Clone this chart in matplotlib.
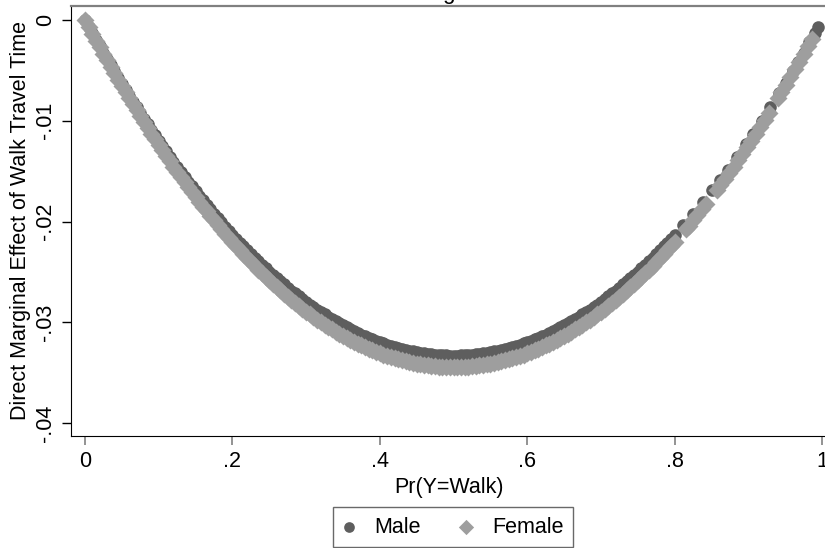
import matplotlib
matplotlib.use("Agg")
import matplotlib.pyplot as plt

plt.rcParams['font.family'] = ['Liberation Sans', 'DejaVu Sans']

# ---------------- data ----------------
p_main = [0.000, 0.005, 0.010, 0.015, 0.020, 0.025, 0.030, 0.035, 0.040, 0.045,
          0.050, 0.055, 0.060, 0.065, 0.070, 0.075, 0.080, 0.085, 0.090, 0.095,
          0.100, 0.105, 0.110, 0.115, 0.120, 0.125, 0.130, 0.135, 0.140, 0.145,
          0.150, 0.155, 0.160, 0.165, 0.170, 0.175, 0.180, 0.185, 0.190, 0.195,
          0.200, 0.21, 0.22, 0.23, 0.24, 0.25, 0.26, 0.27, 0.28, 0.29,
          0.30, 0.31, 0.32, 0.33, 0.34, 0.35, 0.36, 0.37, 0.38, 0.39,
          0.40, 0.41, 0.42, 0.43, 0.44, 0.45, 0.46, 0.47, 0.48, 0.49,
          0.50, 0.51, 0.52, 0.53, 0.54, 0.55, 0.56, 0.57, 0.58, 0.59,
          0.60, 0.61, 0.62, 0.63, 0.64, 0.65, 0.66, 0.67, 0.68, 0.69,
          0.70, 0.71, 0.72, 0.73, 0.74, 0.75, 0.76, 0.77, 0.78, 0.79, 0.80]

male_y_main = [0.0, -0.00066, -0.00132, -0.00197, -0.00261, -0.00325, -0.00388, -0.00450, -0.00511, -0.00572,
               -0.00633, -0.00692, -0.00751, -0.00810, -0.00867, -0.00924, -0.00980, -0.01036, -0.01091, -0.01145,
               -0.01199, -0.01252, -0.01304, -0.01356, -0.01407, -0.01457, -0.01507, -0.01555, -0.01604, -0.01651,
               -0.01698, -0.01745, -0.01790, -0.01835, -0.01879, -0.01923, -0.01966, -0.02008, -0.02050, -0.02091,
               -0.02131, -0.02210, -0.02286, -0.02359, -0.02430, -0.02498, -0.02563, -0.02625, -0.02685, -0.02743,
               -0.02797, -0.02849, -0.02898, -0.02945, -0.02989, -0.03030, -0.03069, -0.03105, -0.03138, -0.03169,
               -0.03197, -0.03222, -0.03245, -0.03265, -0.03282, -0.03297, -0.03309, -0.03318, -0.03325, -0.03329,
               -0.03330, -0.03329, -0.03325, -0.03318, -0.03309, -0.03297, -0.03282, -0.03265, -0.03245, -0.03222,
               -0.03197, -0.03169, -0.03138, -0.03105, -0.03069, -0.03030, -0.02989, -0.02945, -0.02898, -0.02849,
               -0.02797, -0.02743, -0.02685, -0.02625, -0.02563, -0.02498, -0.02430, -0.02359, -0.02286, -0.02210,
               -0.02131]

female_y_main = [0.0, -0.00069, -0.00136, -0.00204, -0.00270, -0.00336, -0.00401, -0.00465, -0.00529, -0.00592,
                 -0.00655, -0.00716, -0.00777, -0.00837, -0.00897, -0.00956, -0.01014, -0.01072, -0.01129, -0.01185,
                 -0.01240, -0.01295, -0.01349, -0.01402, -0.01455, -0.01507, -0.01559, -0.01609, -0.01659, -0.01708,
                 -0.01757, -0.01805, -0.01852, -0.01899, -0.01944, -0.01990, -0.02034, -0.02078, -0.02121, -0.02163,
                 -0.02205, -0.02286, -0.02365, -0.02440, -0.02514, -0.02584, -0.02651, -0.02716, -0.02778, -0.02837,
                 -0.02894, -0.02948, -0.02999, -0.03047, -0.03092, -0.03135, -0.03175, -0.03212, -0.03247, -0.03278,
                 -0.03307, -0.03333, -0.03357, -0.03378, -0.03395, -0.03411, -0.03423, -0.03433, -0.03440, -0.03444,
                 -0.03445, -0.03444, -0.03440, -0.03433, -0.03423, -0.03411, -0.03395, -0.03378, -0.03357, -0.03333,
                 -0.03307, -0.03278, -0.03247, -0.03212, -0.03175, -0.03135, -0.03092, -0.03047, -0.02999, -0.02948,
                 -0.02894, -0.02837, -0.02778, -0.02716, -0.02651, -0.02584, -0.02514, -0.02440, -0.02365, -0.02286,
                 -0.02205]

# extra observations lying between the points above (0.205 ... 0.795)
p_mid = [0.205, 0.215, 0.225, 0.235, 0.245, 0.255, 0.265, 0.275, 0.285, 0.295,
         0.305, 0.315, 0.325, 0.335, 0.345, 0.355, 0.365, 0.375, 0.385, 0.395,
         0.405, 0.415, 0.425, 0.435, 0.445, 0.455, 0.465, 0.475, 0.485, 0.495,
         0.505, 0.515, 0.525, 0.535, 0.545, 0.555, 0.565, 0.575, 0.585, 0.595,
         0.605, 0.615, 0.625, 0.635, 0.645, 0.655, 0.665, 0.675, 0.685, 0.695,
         0.705, 0.715, 0.725, 0.735, 0.745, 0.755, 0.765, 0.775, 0.785, 0.795]

male_y_mid = [-0.02171, -0.02248, -0.02323, -0.02395, -0.02464, -0.02530, -0.02594, -0.02656, -0.02714, -0.02770,
              -0.02824, -0.02874, -0.02922, -0.02967, -0.03010, -0.03050, -0.03087, -0.03122, -0.03154, -0.03183,
              -0.03210, -0.03234, -0.03255, -0.03274, -0.03290, -0.03303, -0.03314, -0.03322, -0.03327, -0.03330,
              -0.03330, -0.03327, -0.03322, -0.03314, -0.03303, -0.03290, -0.03274, -0.03255, -0.03234, -0.03210,
              -0.03183, -0.03154, -0.03122, -0.03087, -0.03050, -0.03010, -0.02967, -0.02922, -0.02874, -0.02824,
              -0.02770, -0.02714, -0.02656, -0.02594, -0.02530, -0.02464, -0.02395, -0.02323, -0.02248, -0.02171]

female_y_mid = [-0.02246, -0.02326, -0.02403, -0.02477, -0.02549, -0.02618, -0.02684, -0.02747, -0.02808, -0.02866,
                -0.02921, -0.02973, -0.03023, -0.03070, -0.03114, -0.03155, -0.03194, -0.03230, -0.03263, -0.03293,
                -0.03321, -0.03345, -0.03368, -0.03387, -0.03403, -0.03417, -0.03428, -0.03436, -0.03442, -0.03445,
                -0.03445, -0.03442, -0.03436, -0.03428, -0.03417, -0.03403, -0.03387, -0.03368, -0.03345, -0.03321,
                -0.03293, -0.03263, -0.03230, -0.03194, -0.03155, -0.03114, -0.03070, -0.03023, -0.02973, -0.02921,
                -0.02866, -0.02808, -0.02747, -0.02684, -0.02618, -0.02549, -0.02477, -0.02403, -0.02326, -0.02246]

male_p_tail = [0.812, 0.825, 0.838, 0.851, 0.862, 0.872, 0.885, 0.897, 0.906, 0.918,
               0.930, 0.942, 0.951, 0.960, 0.968, 0.975, 0.983, 0.990, 0.995]
male_y_tail = [-0.02033, -0.01923, -0.01808, -0.01689, -0.01584, -0.01487, -0.01356, -0.01231, -0.01134, -0.01003,
               -0.00867, -0.00728, -0.00621, -0.00511, -0.00413, -0.00325, -0.00223, -0.00132, -0.00066]

female_p_tail = [0.815, 0.819, 0.825, 0.831, 0.837, 0.843,
                 0.857, 0.862, 0.868, 0.874, 0.880, 0.886, 0.892, 0.898, 0.904, 0.910, 0.916, 0.922, 0.928,
                 0.940, 0.945, 0.951, 0.957, 0.963, 0.969, 0.975, 0.981, 0.986]
female_y_tail = [-0.02078, -0.02043, -0.01990, -0.01935, -0.01880, -0.01824,
                 -0.01687, -0.01639, -0.01579, -0.01518, -0.01455, -0.01392, -0.01328, -0.01262, -0.01196, -0.01129,
                 -0.01060, -0.00991, -0.00921,
                 -0.00777, -0.00716, -0.00642, -0.00567, -0.00491, -0.00414, -0.00336, -0.00257, -0.00190]

x_ticks = [0, 0.2, 0.4, 0.6, 0.8, 1.0]
x_tick_labels = ['0', '.2', '.4', '.6', '.8', '1']
y_ticks = [0, -0.01, -0.02, -0.03, -0.04]
y_tick_labels = ['0', '-.01', '-.02', '-.03', '-.04']
series_names = ['Male', 'Female']

# ---------------- figure ----------------
W, H = 825, 548
fig = plt.figure(figsize=(W / 100, H / 100), dpi=100)
ax = fig.add_axes([71 / W, 1 - 436 / H, (826 - 71) / W, (436 - 6) / H])

male_color = '#5e5e5e'
female_color = '#9e9e9e'

ax.scatter(p_main + p_mid + male_p_tail, male_y_main + male_y_mid + male_y_tail,
           s=82, marker='o', color=male_color, linewidths=0,
           label=series_names[0], zorder=2)
ax.scatter(p_main + p_mid + female_p_tail, female_y_main + female_y_mid + female_y_tail,
           s=84, marker='D', color=female_color, linewidths=0,
           label=series_names[1], zorder=3)

ax.set_xlim(-0.019, 1.0054)
ax.set_ylim(-0.04129, 0.00139)

fs = 15.5
ax.set_xticks(x_ticks)
ax.set_xticklabels(x_tick_labels, fontsize=fs)
ax.set_yticks(y_ticks)
ax.set_yticklabels(y_tick_labels, fontsize=fs, rotation=90, va='center')
ax.tick_params(axis='x', length=6.5, width=1.2, color='#808080', pad=4)
ax.tick_params(axis='y', length=6.5, width=1.0, color='black', pad=4)

ax.set_xlabel('Pr(Y=Walk)', fontsize=fs, labelpad=4)
ax.set_ylabel('Direct Marginal Effect of Walk Travel Time', fontsize=fs, labelpad=3)

ax.spines['top'].set_color('#808080')
ax.spines['top'].set_linewidth(1.6)
ax.spines['right'].set_visible(False)
ax.spines['left'].set_color('black')
ax.spines['bottom'].set_color('black')

# title, cut off by the top edge of the image (only the descender shows)
fig.text(456 / W, 1 + 1.5 / H, 'Walking', ha='right', va='baseline', fontsize=16)

leg = fig.legend(loc='upper center', bbox_to_anchor=(453 / W, 1 - 507 / H), ncol=2,
                 fontsize=fs, frameon=True, fancybox=False, edgecolor='#444444',
                 handlelength=0.6, handletextpad=0.9, columnspacing=1.8,
                 borderpad=0.45, scatterpoints=1, borderaxespad=0,
                 markerscale=0.85)
leg.get_frame().set_linewidth(1.0)

fig.savefig('out.png', dpi=100)
